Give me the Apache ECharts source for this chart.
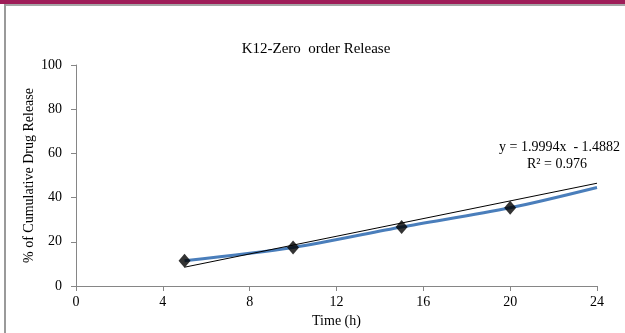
<!DOCTYPE html>
<html>
<head>
<meta charset="utf-8">
<style>
  html, body { margin: 0; padding: 0; background: #ffffff; }
  #chart { width: 625px; height: 333px; }
</style>
<script src="https://cdn.jsdelivr.net/npm/echarts@6/dist/echarts.min.js"></script>
</head>
<body>
<div id="chart"></div>
<script>
// Release time points (h) and cumulative release (%)
const timeH = [5, 10, 15, 20];
const releasePct = [11.4, 17.4, 26.7, 35.4];

// Fitted release curve (blue), extended to 24 h
const curveX = [5, 10, 15, 20, 24];
const curveY = [11.4, 17.4, 26.7, 35.4, 44.6];

// Linear trendline: y = 1.9994x - 1.4882, R² = 0.976
const slope = 1.9994;
const intercept = -1.4882;
const rSquared = 0.976;
const trendX = [5, 24];

// Axis ticks
const xTicks = [0, 4, 8, 12, 16, 20, 24];
const yTicks = [0, 20, 40, 60, 80, 100];

const serif = '"Liberation Serif", "Times New Roman", serif';

const trendData = trendX.map(x => [x, slope * x + intercept]);
const chart = echarts.init(document.getElementById('chart'), null, { renderer: 'canvas' });

chart.setOption({
  animation: false,
  backgroundColor: '#ffffff',
  title: {
    text: 'K12-Zero  order Release',
    left: 311, top: 37, textAlign: 'center',
    textStyle: { fontFamily: serif, fontSize: 15, fontWeight: 'normal', color: '#000' }
  },
  graphic: [
    { type: 'rect', shape: { x: 0, y: 0, width: 625, height: 4 }, style: { fill: '#9e1d58' }, silent: true },
    { type: 'rect', shape: { x: 4, y: 4, width: 621, height: 2 }, style: { fill: '#a6a6a6' }, silent: true },
    { type: 'rect', shape: { x: 4, y: 4, width: 2, height: 329 }, style: { fill: '#9a9a9a' }, silent: true },
    { type: 'text', left: 499, top: 140, style: {
        text: 'y = ' + slope.toFixed(4) + 'x  - ' + Math.abs(intercept).toFixed(4),
        font: '14px ' + serif, fill: '#000' } },
    { type: 'text', left: 527, top: 157, style: {
        text: 'R² = ' + rSquared, font: '14px ' + serif, fill: '#000' } }
  ],
  grid: { left: 76, right: 28, top: 65, bottom: 46, containLabel: false },
  xAxis: {
    type: 'value', min: xTicks[0], max: xTicks[xTicks.length - 1], interval: 4,
    name: 'Time (h)', nameLocation: 'middle', nameGap: 28, nameMoveOverlap: false,
    nameTextStyle: { fontFamily: serif, fontSize: 14, color: '#000' },
    axisLine: { onZero: false, lineStyle: { color: '#868686', width: 1 } },
    axisTick: { show: true, length: 5, lineStyle: { color: '#868686' } },
    axisLabel: { fontFamily: serif, fontSize: 14, color: '#000', margin: 9 },
    splitLine: { show: false }
  },
  yAxis: {
    type: 'value', min: yTicks[0], max: yTicks[yTicks.length - 1], interval: 20,
    name: '% of Cumulative Drug Release', nameLocation: 'middle', nameGap: 40, nameRotate: 90,
    nameMoveOverlap: false,
    nameTextStyle: { fontFamily: serif, fontSize: 14, color: '#000' },
    axisLine: { show: true, lineStyle: { color: '#868686', width: 1 } },
    axisTick: { show: true, length: 5, lineStyle: { color: '#868686' } },
    axisLabel: { fontFamily: serif, fontSize: 14, color: '#000', margin: 14 },
    splitLine: { show: false }
  },
  series: [
    {
      name: 'Release curve', type: 'line', data: curveX.map((x, i) => [x, curveY[i]]),
      smooth: 0.3, symbol: 'none',
      lineStyle: { color: '#4a7ebb', width: 3 }, z: 2
    },
    {
      name: 'Linear trend', type: 'line', data: trendData,
      symbol: 'none', lineStyle: { color: '#000000', width: 1 }, z: 3
    },
    {
      name: 'Observed', type: 'scatter', data: timeH.map((x, i) => [x, releasePct[i]]),
      symbol: 'diamond', symbolSize: [12, 14],
      itemStyle: { color: '#000000' }, z: 4
    }
  ]
});
</script>
</body>
</html>
